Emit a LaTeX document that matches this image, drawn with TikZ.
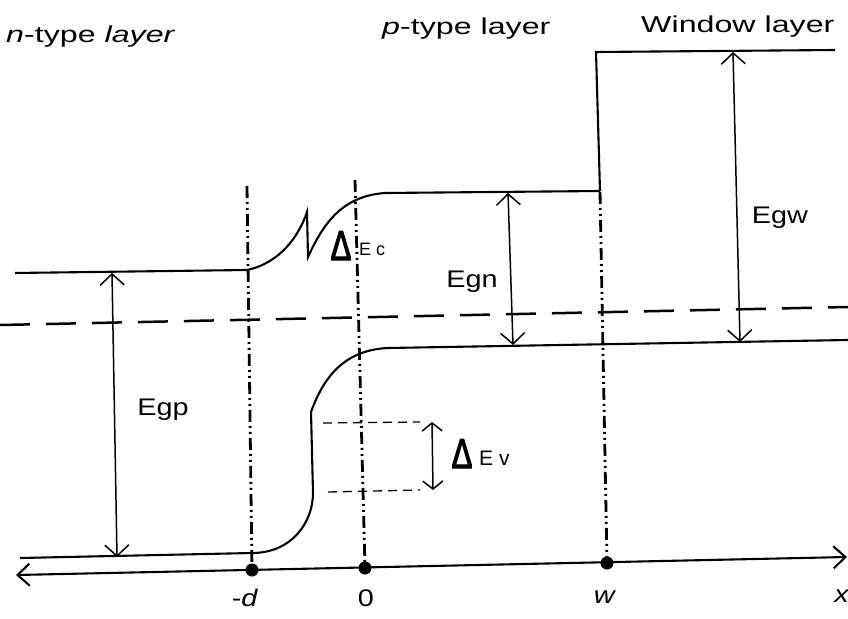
\documentclass[tikz,border=0pt]{standalone}
\usepackage{fontspec}
\setmainfont{Liberation Sans}
\newfontfamily\widefont{Liberation Sans}[FakeStretch=1.4]
\newfontfamily\midfont{Liberation Sans}[FakeStretch=1.2]
\newfontfamily\deltafont{Liberation Sans}[FakeStretch=0.74,FakeBold=2.5]
\usetikzlibrary{arrows.meta}
\begin{document}
\begin{tikzpicture}[x=1pt,y=-1pt,
  band/.style={line width=2.1pt},
  barb/.tip={Straight Barb[length=11pt,width=24pt]},
  dimarrow/.style={line width=1.5pt,barb-barb},
  smallarrow/.style={line width=1.5pt,{Straight Barb[length=8pt,width=20pt]}-{Straight Barb[length=8pt,width=20pt]}},
  axisline/.style={line width=2.1pt,{Straight Barb[length=12pt,width=22pt]}-{Straight Barb[length=12pt,width=22pt]}},
  vline/.style={line width=2.8pt,dash pattern=on 12pt off 4pt on 2pt off 4pt on 2pt off 4pt},
  fermi/.style={line width=2.5pt,dash pattern=on 30pt off 16pt},
  thindash/.style={line width=1.3pt,dash pattern=on 9pt off 6pt},
  dot/.style={circle,fill=black,inner sep=0pt,minimum size=13pt},
  hdr/.style={font=\widefont\fontsize{23}{27}\selectfont,inner sep=0pt},
  lbl/.style={font=\midfont\fontsize{24}{28}\selectfont,inner sep=0pt},
  deltalbl/.style={font=\deltafont\fontsize{42}{42}\selectfont,inner sep=0pt,anchor=base},
]
\useasboundingbox (0,0) rectangle (848,618);

% axis and marks
\coordinate (axL) at (16,575);
\coordinate (axR) at (847,557);
\draw[axisline] (axL) -- (axR);
\node[dot] (pd) at (252,570) {};
\node[dot] (p0) at (365,568) {};
\node[dot] (pw) at (607,563) {};
\coordinate (td) at (247,186);
\coordinate (t0) at (355,180);
\coordinate (tw) at (600,192);
\draw[vline] (td) -- (pd.center);
\draw[vline] (t0) -- (p0.center);
\draw[vline] (tw) -- (pw.center);

% Fermi level
\coordinate (fL) at (0,325);
\coordinate (fR) at (848,307);
\draw[fermi] (fL) -- (fR);

% conduction band
\draw[band] (15,273) -- (247,270)
  .. controls (280,263) and (299,236) .. (307,212)
  -- (308,257)
  .. controls (324,222) and (343,196) .. (385,193) -- (600,191);
\draw[band] (600,191) -- (596,52) -- (835,50);

% valence band
\draw[band] (20,558) -- (252,553)
  .. controls (292,553) and (313,522) .. (313,493)
  -- (311,412)
  .. controls (324,376) and (345,350) .. (388,348) -- (848,340);

% Delta Ev guides
\coordinate (dvT1) at (323,423); \coordinate (dvT2) at (420,422);
\coordinate (dvB1) at (328,492); \coordinate (dvB2) at (420,490);
\draw[thindash] (dvT1) -- (dvT2);
\draw[thindash] (dvB1) -- (dvB2);

% gap arrows
\coordinate (egpT) at (112,273); \coordinate (egpB) at (117,557);
\coordinate (egnT) at (508,193); \coordinate (egnB) at (513,345);
\coordinate (egwT) at (733,52);  \coordinate (egwB) at (740,342);
\coordinate (devT) at (432,422); \coordinate (devB) at (433,490);
\draw[dimarrow] (egpT) -- (egpB);
\draw[dimarrow] (egnT) -- (egnB);
\draw[dimarrow] (egwT) -- (egwB);
\draw[smallarrow] (devT) -- (devB);

% labels
\node[hdr,anchor=base west] (nlab) at (6,43) {\textit{n}-type \textit{layer}};
\node[hdr,anchor=base west] (plab) at (382,35) {\textit{p}-type layer};
\node[hdr,anchor=base west] (wlab) at (641,33) {Window layer};
\node[lbl] (egp) at (163,410) {Egp};
\node[lbl] (egn) at (472,282) {Egn};
\node[lbl] (egw) at (780,218) {Egw};
\node[deltalbl] (dc) at (341,260) {Δ};
\node[inner sep=0pt,anchor=base west,font=\fontsize{18}{20}\selectfont] (ec) at (359,255) {E c};
\node[deltalbl] (dv) at (462,468) {Δ};
\node[inner sep=0pt,anchor=base west,font=\fontsize{21}{24}\selectfont] (ev) at (479,465) {E v};
\node[lbl] (ld) at (245,598) {-\textit{d}};
\node[lbl] (l0) at (366,598) {0};
\node[lbl] (lw) at (605,597) {\textit{w}};
\node[lbl] (lx) at (842,596) {\textit{x}};
\end{tikzpicture}
\end{document}
